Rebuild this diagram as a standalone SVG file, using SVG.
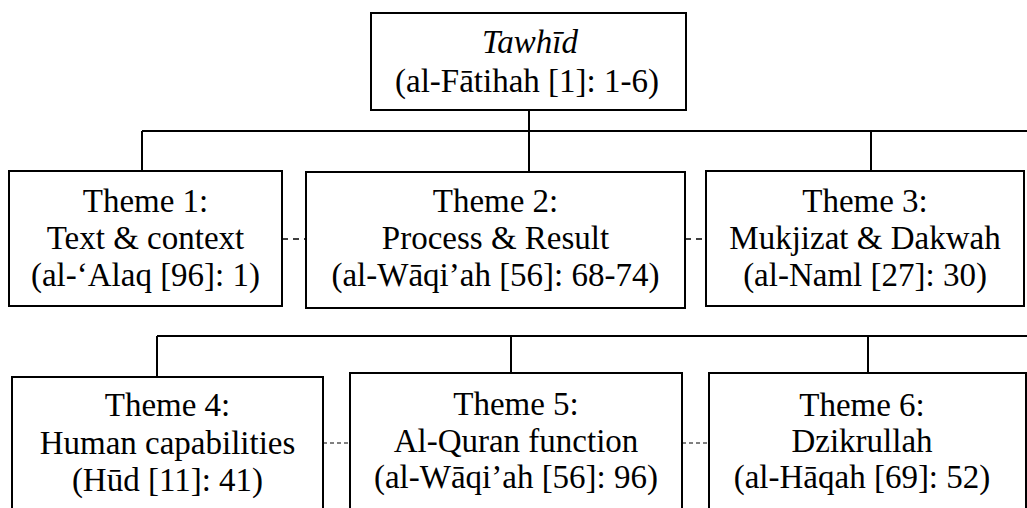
<svg xmlns="http://www.w3.org/2000/svg" width="1027" height="508" viewBox="0 0 1027 508">
<style>
.box{fill:#fff;stroke:#000;stroke-width:2}
.ln{fill:none;stroke:#000;stroke-width:2}
.d1{fill:none;stroke:#000;stroke-width:1.6;stroke-dasharray:6 5}
.d2{fill:none;stroke:#000;stroke-width:1;stroke-dasharray:4 3}
text{font-family:"Liberation Serif","Times New Roman",serif;font-size:33px;fill:#000;text-anchor:middle}
.it{font-style:italic}
</style>
<rect width="1027" height="508" fill="#fff"/>
<g id="connectors">
<line class="ln" x1="142" y1="131" x2="1027" y2="131"/>
<line class="ln" x1="142" y1="131" x2="142" y2="171"/>
<line class="ln" x1="529" y1="110" x2="529" y2="172"/>
<line class="ln" x1="871" y1="131" x2="871" y2="171"/>
<line class="d1" x1="282" y1="239" x2="306" y2="239"/>
<line class="d1" x1="685" y1="239" x2="706" y2="239"/>
<line class="ln" x1="157" y1="336" x2="1027" y2="336"/>
<line class="ln" x1="157" y1="336" x2="157" y2="377"/>
<line class="ln" x1="511" y1="336" x2="511" y2="373"/>
<line class="ln" x1="868" y1="336" x2="868" y2="373"/>
<line class="d2" x1="323" y1="443" x2="350" y2="443"/>
<line class="d2" x1="682" y1="443" x2="709" y2="443"/>
</g>
<g id="tawhid">
<rect class="box" x="371" y="13" width="315" height="97"/>
<text class="it" x="530" y="53">Tawhīd</text>
<text x="527" y="92">(al-Fātihah [1]: 1-6)</text>
</g>
<g id="theme1">
<rect class="box" x="9" y="171" width="273" height="135"/>
<text x="145.5" y="212">Theme 1:</text>
<text x="145.5" y="249">Text &amp; context</text>
<text x="145.5" y="286">(al-‘Alaq [96]: 1)</text>
</g>
<g id="theme2">
<rect class="box" x="306" y="172" width="379" height="136"/>
<text x="495.5" y="212">Theme 2:</text>
<text x="495.5" y="249">Process &amp; Result</text>
<text x="495.5" y="286">(al-Wāqi’ah [56]: 68-74)</text>
</g>
<g id="theme3">
<rect class="box" x="706" y="171" width="318" height="135"/>
<text x="865" y="212">Theme 3:</text>
<text x="865" y="249">Mukjizat &amp; Dakwah</text>
<text x="865" y="286">(al-Naml [27]: 30)</text>
</g>
<g id="theme4">
<rect class="box" x="12" y="377" width="311" height="140"/>
<text x="167.5" y="416">Theme 4:</text>
<text x="167.5" y="454">Human capabilities</text>
<text x="167.5" y="491">(Hūd [11]: 41)</text>
</g>
<g id="theme5">
<rect class="box" x="350" y="373" width="332" height="145"/>
<text x="516" y="415">Theme 5:</text>
<text x="516" y="452">Al-Quran function</text>
<text x="516" y="488">(al-Wāqi’ah [56]: 96)</text>
</g>
<g id="theme6">
<rect class="box" x="709" y="373" width="317" height="145"/>
<text x="862" y="416">Theme 6:</text>
<text x="862" y="452">Dzikrullah</text>
<text x="862" y="488">(al-Hāqah [69]: 52)</text>
</g>
</svg>
